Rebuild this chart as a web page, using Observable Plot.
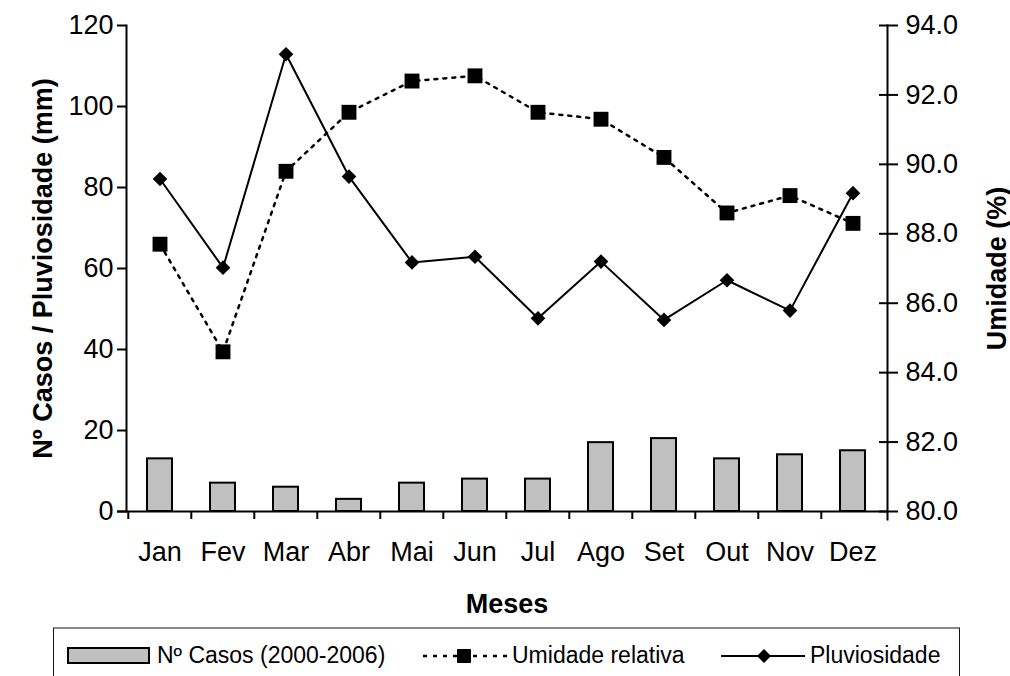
<!DOCTYPE html>
<html>
<head>
<meta charset="utf-8">
<script src="https://cdn.jsdelivr.net/npm/d3@7"></script>
<script src="https://cdn.jsdelivr.net/npm/@observablehq/plot@0.6"></script>
<style>
  html, body { margin: 0; padding: 0; background: #fff; }
  #wrap { position: relative; width: 1010px; height: 676px; overflow: hidden; font-family: "Liberation Sans", Arial, sans-serif; }
  #chart svg { display: block; }
  g[aria-label="y-axis label"] text, g[aria-label="x-axis label"] text { font-weight: bold; }
  #legend { position: absolute; left: 53px; top: 627px; width: 907px; height: 70px; box-sizing: border-box;
            border: 1px solid #111; border-top: 2px solid #888; background: #fff; }
  .sw { position: absolute; top: 0; display: block; }
  .lt { position: absolute; top: 11px; font-size: 23px; line-height: 30px; color: #000; white-space: nowrap; }
</style>
</head>
<body>
<div id="wrap">
  <div id="chart"></div>
  <div id="legend"></div>
</div>
<script>
const months = ["Jan", "Fev", "Mar", "Abr", "Mai", "Jun", "Jul", "Ago", "Set", "Out", "Nov", "Dez"];
const casos = [13, 7, 6, 3, 7, 8, 8, 17, 18, 13, 14, 15];
const umidade = [87.7, 84.6, 89.8, 91.5, 92.4, 92.55, 91.5, 91.3, 90.2, 88.6, 89.1, 88.3];
const pluviosidade = [82.1, 60.2, 112.9, 82.7, 61.5, 62.9, 47.7, 61.7, 47.3, 57.1, 49.6, 78.6];
const leftTicks = [0, 20, 40, 60, 80, 100, 120];
const rightTicks = [80, 82, 84, 86, 88, 90, 92, 94];
const leftDomain = [0, 120];
const rightDomain = [80, 94];
const legendLabels = ["Nº Casos (2000-2006)", "Umidade relativa", "Pluviosidade"];

const toLeft = h => leftDomain[0] + (h - rightDomain[0]) * (leftDomain[1] - leftDomain[0]) / (rightDomain[1] - rightDomain[0]);
const fromLeft = v => rightDomain[0] + (v - leftDomain[0]) * (rightDomain[1] - rightDomain[0]) / (leftDomain[1] - leftDomain[0]);

const table = months.map((m, i) => ({month: m, casos: casos[i], umidade: umidade[i], pluv: pluviosidade[i]}));

const W = 1010, H = 620, mL = 126, mR = 123, mT = 25, mB = 109;
const step = (W - mL - mR) / months.length;

const chart = Plot.plot({
  width: W, height: H,
  marginLeft: mL, marginRight: mR, marginTop: mT, marginBottom: mB,
  style: {fontFamily: "'Liberation Sans', Arial, sans-serif", fontSize: "27px", color: "#000", background: "#fff", overflow: "visible"},
  x: {domain: months, paddingInner: 0.6, paddingOuter: 0.3},
  y: {domain: leftDomain},
  marks: [
    Plot.axisY({ticks: leftTicks, tickSize: 9, tickPadding: 4, strokeWidth: 2, tickFormat: d => String(d),
                label: "Nº Casos / Pluviosidade (mm)", labelArrow: "none", labelAnchor: "center", labelOffset: 94}),
    Plot.axisY({anchor: "right", ticks: rightTicks.map(toLeft), tickSize: 10, tickPadding: 8, strokeWidth: 2,
                tickFormat: d => fromLeft(d).toFixed(1),
                label: "Umidade (%)", labelArrow: "none", labelAnchor: "center", labelOffset: 118}),
    Plot.axisY({anchor: "right", ticks: rightTicks.map(toLeft), tickSize: 9, dx: -9, strokeWidth: 2,
                tickFormat: () => "", label: null}),
    Plot.axisX({tickSize: 0, tickPadding: 30, label: "Meses", labelArrow: "none", labelAnchor: "center", labelOffset: 101}),
    Plot.axisX({tickSize: 8, dx: -step / 2, strokeWidth: 2, tickFormat: () => "", label: null}),
    Plot.frame({anchor: "left", strokeWidth: 2}),
    Plot.frame({anchor: "right", strokeWidth: 2, insetBottom: -8}),
    Plot.barY(table, {x: "month", y: "casos", fill: "#c0c0c0", stroke: "#000", strokeWidth: 2}),
    Plot.ruleY([0], {strokeWidth: 2, insetLeft: -9}),
    Plot.line(table, {x: "month", y: d => toLeft(d.umidade), stroke: "#000", strokeWidth: 2.5, strokeDasharray: "3,6"}),
    Plot.dot(table, {x: "month", y: d => toLeft(d.umidade), symbol: "square", r: 8.4, fill: "#000", stroke: "none"}),
    Plot.line(table, {x: "month", y: "pluv", stroke: "#000", strokeWidth: 2}),
    Plot.dot(table, {x: "month", y: "pluv", symbol: "diamond2", r: 6.6, fill: "#000", stroke: "none"})
  ]
});
document.getElementById("chart").appendChild(chart);

// Legend (HTML below the SVG); positions relative to the legend box
const legend = document.getElementById("legend");
const L0 = 53;
function addSwatch(left, w, inner) {
  const s = document.createElementNS("http://www.w3.org/2000/svg", "svg");
  s.setAttribute("class", "sw");
  s.setAttribute("width", w);
  s.setAttribute("height", 50);
  s.style.left = (left - L0) + "px";
  s.innerHTML = inner;
  legend.appendChild(s);
}
function addText(left, txt) {
  const d = document.createElement("div");
  d.className = "lt";
  d.style.left = (left - L0) + "px";
  d.textContent = txt;
  legend.appendChild(d);
}
addSwatch(66, 84, `<rect x="1" y="19" width="81" height="15" fill="#c0c0c0" stroke="#000" stroke-width="2"/>`);
addText(156, legendLabels[0]);
addSwatch(422, 90, `<line x1="0" y1="27" x2="88" y2="27" stroke="#000" stroke-width="2.5" stroke-dasharray="4,6"/><rect x="34" y="20" width="14" height="14" fill="#000"/>`);
addText(511, legendLabels[1]);
addSwatch(720, 84, `<line x1="0" y1="27" x2="84" y2="27" stroke="#000" stroke-width="2"/><path d="M43,20 L50,27 L43,34 L36,27 Z" fill="#000"/>`);
addText(809, legendLabels[2]);
</script>
</body>
</html>
